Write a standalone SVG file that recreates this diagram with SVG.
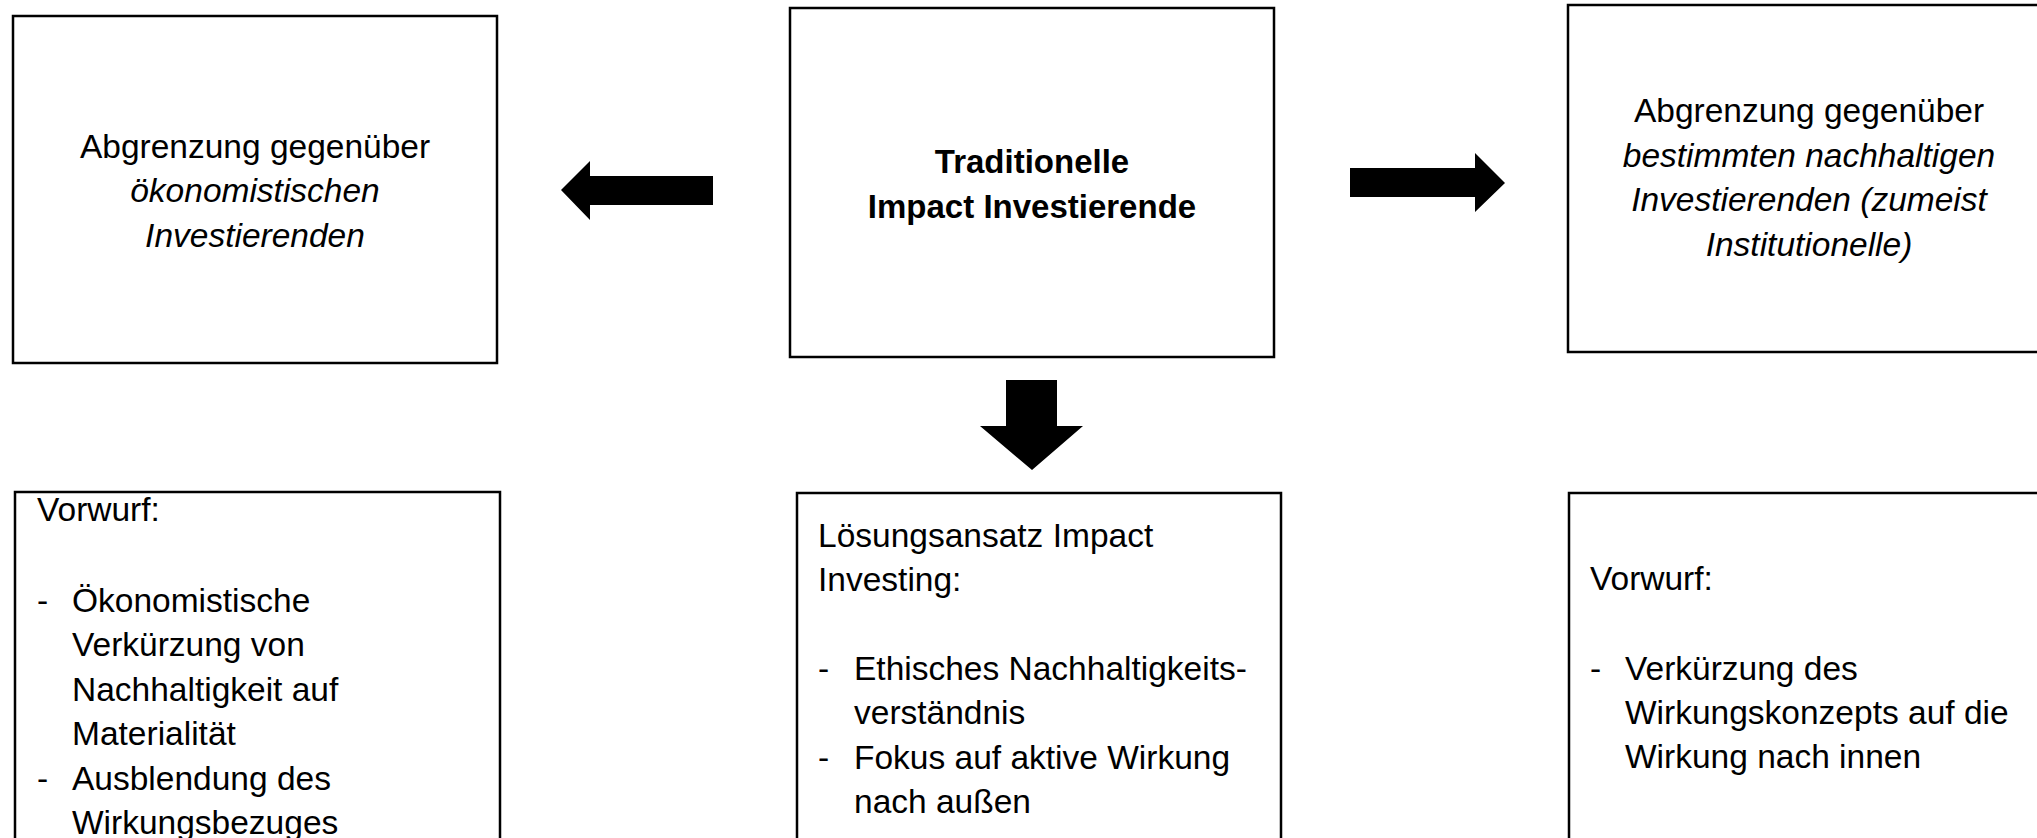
<svg xmlns="http://www.w3.org/2000/svg" width="2037" height="838" viewBox="0 0 2037 838">
<style>
.box{fill:#fff;stroke:#000;stroke-width:2.5}
.t{font-family:"Liberation Sans",Arial,sans-serif;font-size:33.5px;fill:#000}
.c{text-anchor:middle}
.i{font-style:italic}
.b{font-weight:bold;font-size:33px}
.arr{fill:#000}
</style>
<rect width="2037" height="838" fill="#fff"/>
<g id="connectors">
<polygon class="arr" points="713,176 590,176 590,161 561,190 590,220 590,205 713,205"/>
<polygon class="arr" points="1350,168 1475,168 1475,153 1505,183 1475,212 1475,197 1350,197"/>
<polygon class="arr" points="1006,380 1057,380 1057,426 1083,426 1032,470 980,426 1006,426"/>
</g>
<g id="node-oekonomistisch">
<rect class="box" x="13" y="16" width="484" height="347"/>
<text class="t c" x="255" y="158">Abgrenzung gegenüber</text>
<text class="t c i" x="255" y="202">ökonomistischen</text>
<text class="t c i" x="255" y="247">Investierenden</text>
</g>
<g id="node-traditionell">
<rect class="box" x="790" y="8" width="484" height="349"/>
<text class="t c b" x="1032" y="173">Traditionelle</text>
<text class="t c b" x="1032" y="218">Impact Investierende</text>
</g>
<g id="node-nachhaltig">
<rect class="box" x="1568" y="5" width="500" height="347"/>
<text class="t c" x="1809" y="122">Abgrenzung gegenüber</text>
<text class="t c i" x="1809" y="166.5">bestimmten nachhaltigen</text>
<text class="t c i" x="1809" y="211">Investierenden (zumeist</text>
<text class="t c i" x="1809" y="255.5">Institutionelle)</text>
</g>
<g id="node-vorwurf-links">
<rect class="box" x="15" y="492" width="485" height="400"/>
<text class="t" x="37" y="521">Vorwurf:</text>
<text class="t" x="37" y="612">-</text>
<text class="t" x="72" y="612">Ökonomistische</text>
<text class="t" x="72" y="656">Verkürzung von</text>
<text class="t" x="72" y="700.5">Nachhaltigkeit auf</text>
<text class="t" x="72" y="745">Materialität</text>
<text class="t" x="37" y="789.5">-</text>
<text class="t" x="72" y="789.5">Ausblendung des</text>
<text class="t" x="72" y="834">Wirkungsbezuges</text>
</g>
<g id="node-loesung">
<rect class="box" x="797" y="493" width="484" height="400"/>
<text class="t" x="818" y="547">Lösungsansatz Impact</text>
<text class="t" x="818" y="591">Investing:</text>
<text class="t" x="818" y="680">-</text>
<text class="t" x="854" y="680">Ethisches Nachhaltigkeits-</text>
<text class="t" x="854" y="724">verständnis</text>
<text class="t" x="818" y="769">-</text>
<text class="t" x="854" y="769">Fokus auf aktive Wirkung</text>
<text class="t" x="854" y="813">nach außen</text>
</g>
<g id="node-vorwurf-rechts">
<rect class="box" x="1569" y="493" width="500" height="400"/>
<text class="t" x="1590" y="590">Vorwurf:</text>
<text class="t" x="1590" y="680">-</text>
<text class="t" x="1625" y="680">Verkürzung des</text>
<text class="t" x="1625" y="724">Wirkungskonzepts auf die</text>
<text class="t" x="1625" y="768">Wirkung nach innen</text>
</g>
</svg>
